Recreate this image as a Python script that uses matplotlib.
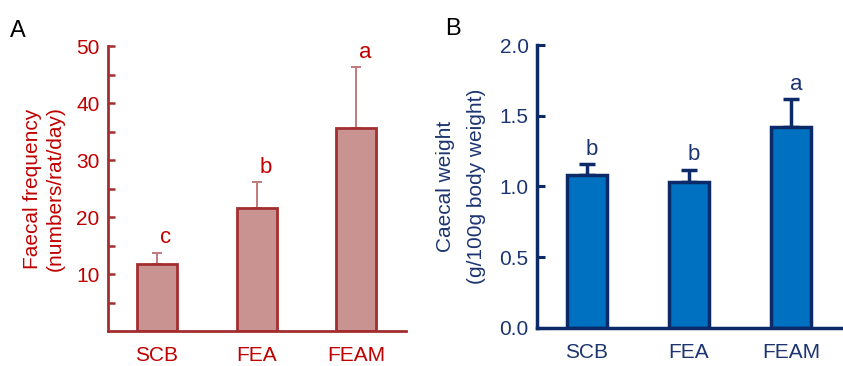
import matplotlib.pyplot as plt

plt.rcParams['font.family'] = ['Liberation Sans', 'DejaVu Sans']

groups = ['SCB', 'FEA', 'FEAM']

faecal_mean = [11.8, 21.6, 35.6]
faecal_err = [1.9, 4.5, 10.7]
faecal_letters = ['c', 'b', 'a']

caecal_mean = [1.08, 1.03, 1.42]
caecal_err = [0.08, 0.09, 0.20]
caecal_letters = ['b', 'b', 'a']

fig = plt.figure(figsize=(8.43, 3.66), dpi=100)

# panel A
red_edge = '#a32e30'
red_fill = '#c99392'
red_text = '#c00000'
axA = fig.add_axes([0.128, 0.0956, 0.354, 0.778])
x = range(len(groups))
axA.bar(x, faecal_mean, width=0.4, color=red_fill, edgecolor=red_edge, linewidth=2, zorder=2)
axA.errorbar(x, faecal_mean, yerr=[[0] * 3, faecal_err], fmt='none', ecolor='#c07a7c',
             elinewidth=1.4, capsize=3.5, capthick=1.4, zorder=1)
for i, (m, e, l) in enumerate(zip(faecal_mean, faecal_err, faecal_letters)):
    axA.text(i + 0.09, m + e + 0.8, l, color=red_text, fontsize=16, ha='center', va='bottom')
axA.set_xlim(-0.49, 2.5)
axA.set_ylim(0, 50)
axA.set_yticks([5, 10, 15, 20, 25, 30, 35, 40, 45, 50])
axA.set_yticklabels(['', '10', '', '20', '', '30', '', '40', '', '50'])
axA.set_xticks(list(x))
axA.set_xticklabels(groups)
axA.tick_params(axis='y', direction='in', length=5, width=1.8, color=red_edge,
                labelcolor=red_text, labelsize=15, pad=6)
axA.tick_params(axis='x', length=0, labelcolor=red_text, labelsize=15, pad=11)
for s in ['top', 'right']:
    axA.spines[s].set_visible(False)
for s in ['left', 'bottom']:
    axA.spines[s].set_color(red_edge)
    axA.spines[s].set_linewidth(2)
axA.set_ylabel('Faecal frequency\n(numbers/rat/day)', color=red_text, fontsize=15,
               labelpad=8, linespacing=1.3)
fig.text(0.012, 0.9, 'A', fontsize=17, color='black')

# panel B
blue_edge = '#0d2a68'
blue_fill = '#0070c0'
blue_text = '#1c3470'
axB = fig.add_axes([0.637, 0.104, 0.363, 0.773])
axB.bar(x, caecal_mean, width=0.4, color=blue_fill, edgecolor=blue_edge, linewidth=2.5, zorder=2)
axB.errorbar(x, caecal_mean, yerr=[[0] * 3, caecal_err], fmt='none', ecolor=blue_edge,
             elinewidth=2.5, capsize=5.5, capthick=2.5, zorder=1)
for i, (m, e, l) in enumerate(zip(caecal_mean, caecal_err, caecal_letters)):
    axB.text(i + 0.05, m + e + 0.03, l, color=blue_text, fontsize=16, ha='center', va='bottom')
axB.set_xlim(-0.49, 2.51)
axB.set_ylim(0, 2.0)
axB.set_yticks([0, 0.5, 1.0, 1.5, 2.0])
axB.set_yticklabels(['0.0', '0.5', '1.0', '1.5', '2.0'])
axB.set_xticks(list(x))
axB.set_xticklabels(groups)
axB.tick_params(axis='y', direction='in', length=6, width=2.2, color=blue_edge,
                labelcolor=blue_text, labelsize=15, pad=6)
axB.tick_params(axis='x', length=0, labelcolor=blue_text, labelsize=15, pad=11)
for s in ['top', 'right']:
    axB.spines[s].set_visible(False)
for s in ['left', 'bottom']:
    axB.spines[s].set_color(blue_edge)
    axB.spines[s].set_linewidth(2.5)
axB.set_ylabel('Caecal weight\n(g/100g body weight)', color=blue_text, fontsize=15,
               labelpad=10, linespacing=1.8)
fig.text(0.528, 0.905, 'B', fontsize=17, color='black')

fig.savefig('out.png', dpi=100)
